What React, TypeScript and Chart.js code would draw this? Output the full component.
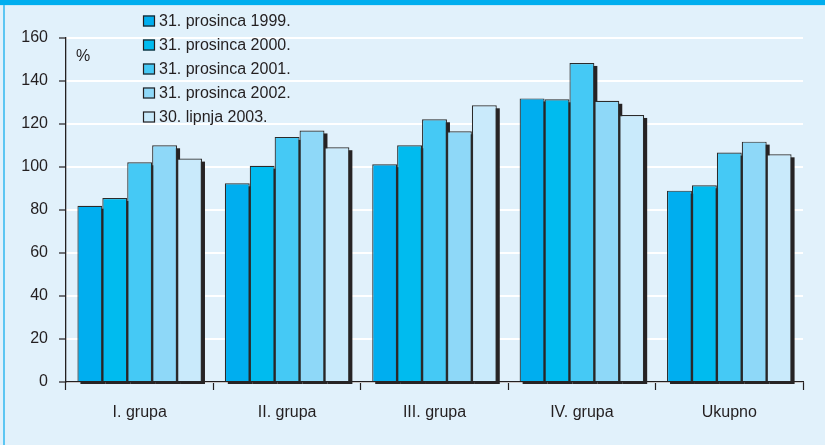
import React, { useEffect, useRef } from "react";
import { Chart, registerables } from "chart.js";

Chart.register(...registerables);

const categories = ["I. grupa", "II. grupa", "III. grupa", "IV. grupa", "Ukupno"];
const seriesLabels = [
  "31. prosinca 1999.",
  "31. prosinca 2000.",
  "31. prosinca 2001.",
  "31. prosinca 2002.",
  "30. lipnja 2003.",
];
const values1999 = [82, 92.4, 101.3, 131.9, 89];
const values2000 = [85.6, 100.6, 110.1, 131.5, 91.5];
const values2001 = [102.2, 114, 122.2, 148.4, 106.7];
const values2002 = [110.1, 117, 116.6, 130.8, 111.8];
const values2003 = [103.9, 109.2, 128.7, 124.2, 105.9];
const seriesColors = ["#00aeef", "#00bbef", "#45c9f5", "#8ed8f8", "#c9eafb"];
const yTicks = [0, 20, 40, 60, 80, 100, 120, 140, 160];
const unitLabel = "%";

const FONT = "'Liberation Sans', Arial, Helvetica, sans-serif";
const INK = "#231f20";

const framePlugin = {
  id: "frame",
  beforeDraw(chart: any) {
    const ctx = chart.ctx;
    ctx.save();
    ctx.fillStyle = "#e1f1fb";
    ctx.fillRect(0, 0, chart.width, chart.height);
    ctx.fillStyle = "#00aeef";
    ctx.fillRect(0, 0, chart.width, 5);
    ctx.fillStyle = "#c6e9f9";
    ctx.fillRect(0, 5, chart.width, 1);
    ctx.fillStyle = "#5cc6f2";
    ctx.fillRect(3, 5, 2, chart.height - 5);
    ctx.restore();
  },
};

const shadowPlugin = {
  id: "barShadow",
  beforeDatasetsDraw(chart: any) {
    const ctx = chart.ctx;
    ctx.save();
    ctx.fillStyle = "#262324";
    chart.data.datasets.forEach((_: any, i: number) => {
      const meta = chart.getDatasetMeta(i);
      meta.data.forEach((bar: any) => {
        const p = bar.getProps(["x", "y", "base", "width"], true);
        const left = p.x - p.width / 2;
        ctx.fillRect(left + 3, p.y + 3, p.width, p.base - p.y);
      });
    });
    ctx.restore();
  },
};

const legendPlugin = {
  id: "customLegend",
  afterDraw(chart: any) {
    const ctx = chart.ctx;
    ctx.save();
    ctx.font = `16px ${FONT}`;
    ctx.textBaseline = "middle";
    ctx.textAlign = "left";
    chart.data.datasets.forEach((ds: any, i: number) => {
      const top = 15.5 + i * 24;
      ctx.fillStyle = ds.backgroundColor;
      ctx.fillRect(143, top, 12, 11);
      ctx.strokeStyle = INK;
      ctx.lineWidth = 1.2;
      ctx.strokeRect(143.5, top + 0.5, 11, 10);
      ctx.fillStyle = INK;
      ctx.fillText(ds.label, 159, top + 6);
    });
    ctx.textAlign = "center";
    ctx.fillText(unitLabel, 83, 57);
    ctx.restore();
  },
};

export default function App() {
  const ref = useRef<HTMLCanvasElement>(null);

  useEffect(() => {
    if (!ref.current) return;
    const allValues = [values1999, values2000, values2001, values2002, values2003];
    const chart = new Chart(ref.current, {
      type: "bar",
      data: {
        labels: categories,
        datasets: allValues.map((vals, i) => ({
          label: seriesLabels[i],
          data: vals,
          backgroundColor: seriesColors[i],
          borderColor: "#2b2b2b",
          borderWidth: 1.2,
          categoryPercentage: 0.845,
          barPercentage: 1,
        })),
      },
      options: {
        responsive: false,
        animation: false,
        devicePixelRatio: 1,
        layout: { padding: { top: 38, right: 22, left: 0, bottom: 0 } },
        plugins: {
          legend: { display: false },
          tooltip: { enabled: false },
        },
        scales: {
          x: {
            grid: {
              offset: true,
              drawOnChartArea: false,
              tickLength: 8,
              tickColor: INK,
              tickWidth: 1.2,
            },
            border: { color: INK, width: 1.2 },
            ticks: {
              color: INK,
              font: { size: 16, family: FONT },
              padding: 13,
              maxRotation: 0,
            },
            afterFit(scale: any) {
              scale.height = 63;
            },
          },
          y: {
            min: 0,
            max: 160,
            afterBuildTicks(scale: any) {
              scale.ticks = yTicks.map((v) => ({ value: v }));
            },
            grid: {
              color: "#ffffff",
              lineWidth: 2,
              tickLength: 7,
              tickColor: INK,
              tickWidth: 1.2,
            },
            border: { color: INK, width: 1.3 },
            ticks: {
              color: INK,
              font: { size: 16, family: FONT },
              padding: 11,
            },
            afterFit(scale: any) {
              scale.width = 66;
            },
          },
        },
      },
      plugins: [framePlugin, shadowPlugin, legendPlugin],
    });
    return () => chart.destroy();
  }, []);

  return (
    <div style={{ position: "absolute", left: 0, top: 0, width: 825, height: 445 }}>
      <canvas ref={ref} width={825} height={445} />
    </div>
  );
}
